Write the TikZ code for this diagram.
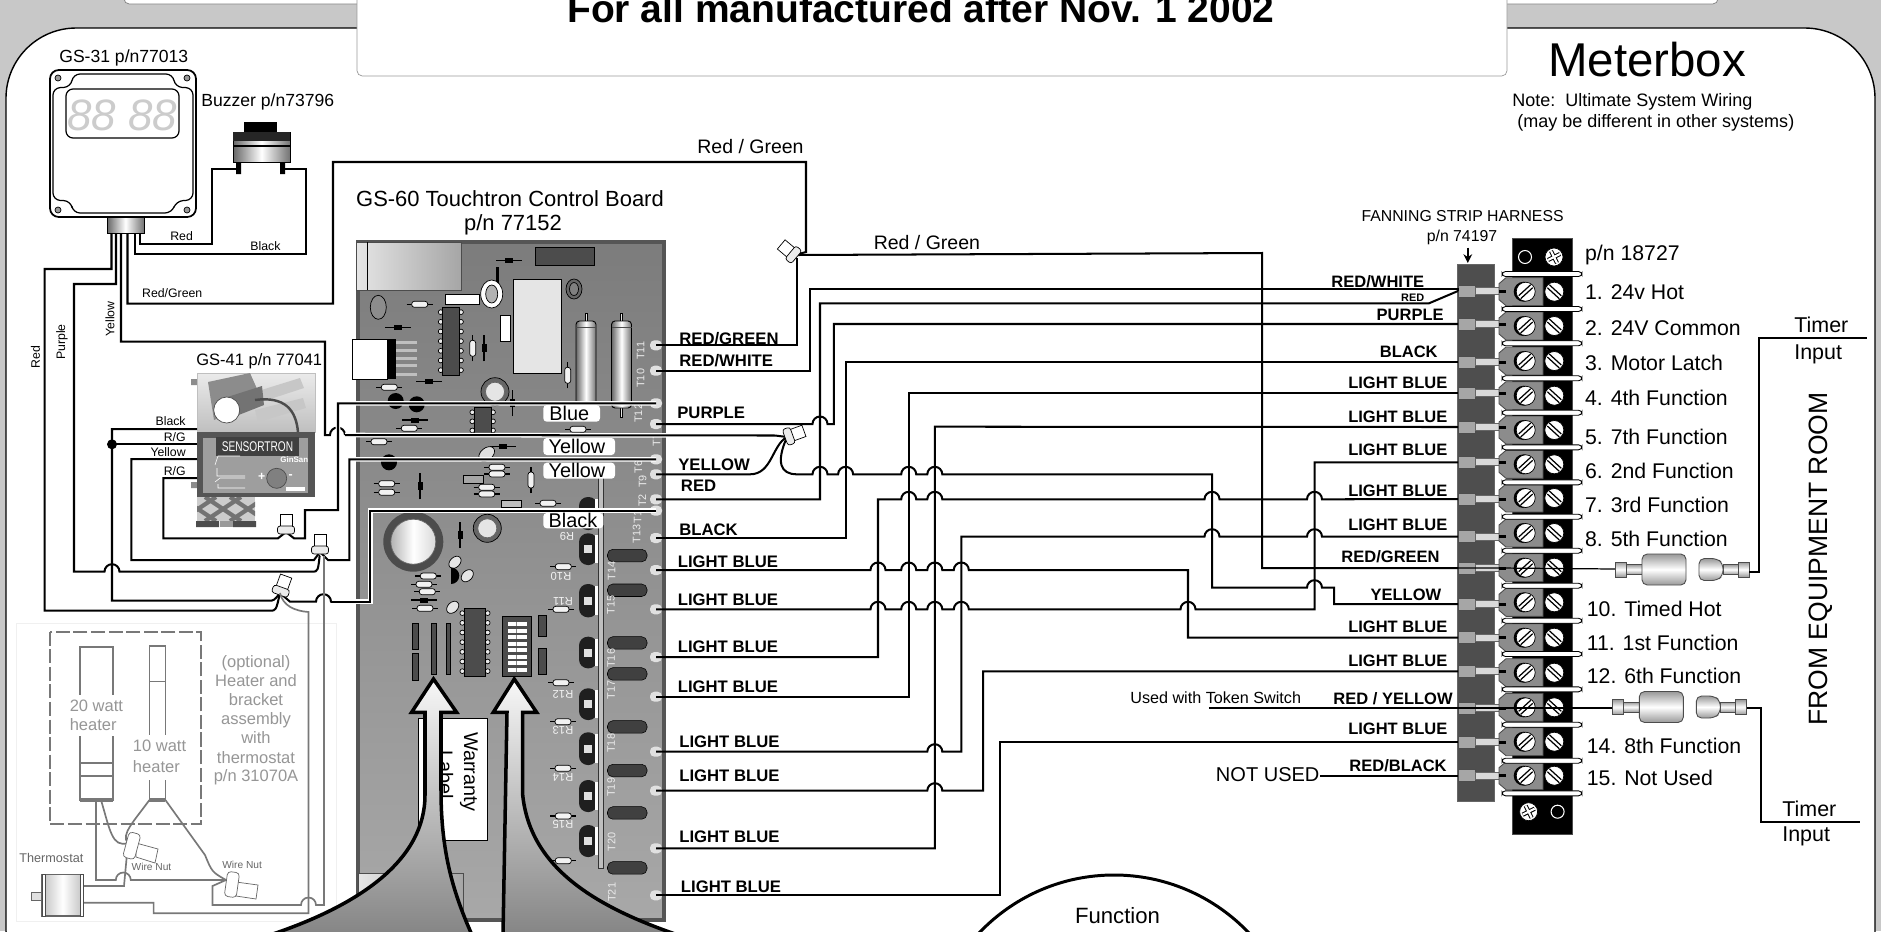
\documentclass[tikz,border=0pt]{standalone}
\usepackage{fontspec}
\setmainfont{Liberation Sans}
\usepackage{xcolor}
\usetikzlibrary{calc,arrows.meta}
\definecolor{bandgris}{RGB}{200,200,200}
\definecolor{boardtop}{RGB}{124,124,124}
\definecolor{boardbot}{RGB}{168,168,168}
\definecolor{boardedge}{RGB}{85,85,85}
\definecolor{stripgris}{RGB}{78,78,78}
\definecolor{luggris}{RGB}{140,140,140}
\definecolor{faintgris}{RGB}{150,150,150}
\definecolor{wiregris}{RGB}{120,120,120}
\newcommand{\fs}[1]{\fontsize{#1}{#1}\selectfont}
\tikzset{
  lab/.style={inner sep=0pt,anchor=base west},
  labr/.style={inner sep=0pt,anchor=base east},
  labc/.style={inner sep=0pt,anchor=base},
  boardtxt/.style={lab,font=\bfseries\fs{9.5}},
  striptxt/.style={labr,font=\bfseries\fs{9.4}},
  termtxt/.style={lab,font=\fs{12.1}},
  smalltxt/.style={inner sep=0pt,font=\fs{7}},
  faint/.style={labc,text=faintgris,font=\fs{9.4}},
  tlab/.style={inner sep=0pt,rotate=90,text=black!8,font=\fs{6.2}},
  rlab/.style={inner sep=0pt,rotate=180,text=black!5,font=\fs{6.4}},
  tag/.style={lab,font=\fs{11.3}},
  wire/.style={line width=1.15pt,black},
  bwire/.style={wire,preaction={draw,white,line width=2.6pt}},
  gwire/.style={line width=0.95pt,wiregris},
  metal/.style={draw=black,line width=0.5pt,left color=black!60,right color=black!55,middle color=white},
  metalh/.style={draw=black!70,line width=0.5pt,top color=black!40,bottom color=black!40,middle color=white},
  big/.style={draw=black,line width=2pt,top color=black!3,bottom color=black!48},
  part/.style={draw=black,line width=0.5pt,fill=black!70},
}
% px coordinates, y going down
\newcommand{\hop}[2]{-- (#1-7.5,#2) arc[start angle=180,end angle=360,radius=7.5]}
\newcommand{\res}[3]{
\begin{scope}[shift={(#1,#2)},rotate=#3]
\draw [black,line width=0.7pt] (-13,0) -- (13,0);
\draw [black,fill=black!5,rounded corners=1.5] (-8,-3) rectangle (8,3);
\end{scope}
}
\newcommand{\dio}[3]{
\begin{scope}[shift={(#1,#2)},rotate=#3]
\draw [black,line width=0.7pt] (-13,0) -- (13,0);
\fill [black] (-4,-2.5) rectangle (4,2.5);
\end{scope}
}
\newcommand{\screw}[2]{
\fill [black] (#1-2,#2) circle (10);
\draw [black,fill=white] (#1,#2) circle (9.5);
\draw [black,line width=0.7pt] (#1-7,#2+4) -- (#1+5,#2-7);
\draw [black,line width=0.7pt] (#1-5,#2+7) -- (#1+7,#2-4);
}
\newcommand{\rscrew}[2]{
\draw [black,fill=white] (#1,#2) circle (9.5);
\draw [black,line width=0.7pt] (#1-7,#2-4) -- (#1+5,#2+7);
\draw [black,line width=0.7pt] (#1-5,#2-7) -- (#1+7,#2+4);
}
\newcommand{\xscrew}[2]{
\draw [black,fill=white] (#1,#2) circle (9);
\draw [black,line width=2.4pt] (#1-6,#2+3) -- (#1+6,#2-3) (#1-3,#2-6) -- (#1+3,#2+6);
\draw [white,line width=1.2pt] (#1-6,#2+3) -- (#1+6,#2-3) (#1-3,#2-6) -- (#1+3,#2+6);
}
\newcommand{\nut}[3]{
\begin{scope}[shift={(#1,#2)},rotate=#3]
\draw [black,fill=white] (4,-6) rectangle (18,6);
\draw [black,fill=black!8,rounded corners=1.5] (-2,-8.5) rectangle (6,8.5);
\end{scope}
}
\newcommand{\fuse}[2]{
\draw [metalh] (#1+11,#2-5) rectangle (#1+27,#2+5);
\draw [metalh] (#1,#2-7.5) rectangle (#1+11,#2+7.5);
\draw [metalh,rounded corners=3] (#1+27,#2-15.5) -- (#1+71,#2-15.5) -- (#1+71,#2+15.5) -- (#1+27,#2+15.5) -- cycle;
\draw [metalh] (#1+108,#2-5) rectangle (#1+123,#2+5);
\draw [metalh,rounded corners=3] (#1+84,#2-11) -- (#1+102,#2-11) -- (#1+108,#2-6) -- (#1+108,#2+6) -- (#1+102,#2+11) -- (#1+84,#2+11) -- cycle;
\draw [metalh] (#1+123,#2-7.5) rectangle (#1+134,#2+7.5);
}
\begin{document}
\begin{tikzpicture}[x=0.02cm,y=-0.02cm]
\useasboundingbox (0,0) rectangle (1881,931);

% background and title
\fill [bandgris] (0,0) rectangle (1881,931);
\draw [black!50,fill=white,rounded corners=3] (124,-20) rectangle (1718,4);
\draw [black,line width=0.8pt,fill=white,rounded corners=40] (6,28) rectangle (1875,1000);
\draw [black!40,fill=white,rounded corners=3] (357,-20) rectangle (1507,76);
\node (title) [labc,font=\bfseries\fs{22.2}] at (921,22) {For all manufactured after Nov. 1 2002};
\node (meterbox) [lab,font=\fs{27}] at (1548,76) {Meterbox};
\node (note1) [lab,font=\fs{10.25}] at (1512,106) {Note:\ \ Ultimate System Wiring};
\node (note2) [lab,font=\fs{10.25}] at (1517,127) {(may be different in other systems)};

% GS-31 display
\node (gslab) [lab,font=\fs{10}] at (59,62) {GS-31 p/n77013};
\draw [black,line width=1pt,fill=white,rounded corners=5] (50,70) rectangle (196,217);
\draw [black,line width=0.7pt,rounded corners=4] (73,74) -- (173,74) -- (175,87) -- (193,88) -- (193,200) -- (176,201) -- (172,213) -- (73,213) -- (71,201) -- (53,200) -- (53,88) -- (71,87) -- cycle;
\draw [black,line width=0.7pt,rounded corners=4] (66,89) rectangle (179,138);
\foreach \sx/\sy in {58/78,187/78,58/210,187/210} {
  \draw [black,fill=black!40] (\sx,\sy) circle (3);
}
\node (digits) [font=\itshape\fs{25},text=black!20,inner sep=0pt] at (122.5,115) {88 88};
\draw [metal] (107,217) rectangle (144,233);

% buzzer
\node (bzlab) [lab,font=\fs{10}] at (201,106) {Buzzer p/n73796};
\fill [black] (244,122) rectangle (277,134);
\draw [metal] (233,132) rectangle (290,162);
\fill [black!85] (233,132) rectangle (290,141);
\draw [black,line width=0.8pt] (233,146) -- (290,146);
\fill [black] (236,162) rectangle (241,174) (280,162) rectangle (285,174);
\coordinate (bzL) at (238,169);
\coordinate (bzR) at (282,169);

% block outputs
\coordinate (oRed) at (111.5,233);
\coordinate (oPur) at (116,233);
\coordinate (oYel) at (121,233);
\coordinate (oRG) at (127.5,233);
\coordinate (oBk) at (134.7,233);
\coordinate (oRd) at (140,233);

% GS-41
\node (s41lab) [lab,font=\fs{9.4}] at (196,365) {GS-41 p/n 77041};
\begin{scope}
\fill [black!45] (191,379) rectangle (197,385) (191,482) rectangle (197,488);
\draw [black!25,top color=black!8,bottom color=black!25] (197,373) rectangle (315,432);
\fill [black!45] (208,382) -- (250,373) -- (262,400) -- (214,420) -- cycle;
\fill [black!22] (255,392) -- (300,378) -- (304,388) -- (258,403) -- cycle;
\fill [black!22] (255,410) -- (303,398) -- (306,408) -- (258,422) -- cycle;
\fill [black!55] (218,400) -- (262,386) -- (264,405) -- (226,420) -- cycle;
\draw [black!70,fill=white] (226.7,410) circle (13);
\draw [black!70,line width=1.4pt] (255,400) .. controls (285,396) and (296,410) .. (298,432);
\fill [boardedge] (197,432) rectangle (315,497);
\fill [black!38] (203,438) rectangle (308,493);
\node (sensortron) [fill=black!75,text=white,xscale=0.72,font=\fs{8},inner xsep=5pt,inner ysep=2.5pt] at (257.5,446.7) {SENSORTRON};
\node (ginsan) [text=white,font=\bfseries\fs{4.5},inner sep=0pt] at (294.3,460) {GinSan};
\draw [white,line width=0.3pt] (215,465) -- (218,456) -- (240,456) (217,468) -- (217,476) -- (245,476);
\draw [white,line width=0.3pt] (215,482) -- (220,478) -- (245,478) (218,484) -- (218,488) -- (245,488);
\draw [black!70,fill=black!50] (276.7,478.3) circle (10);
\node (plus) [text=white,font=\bfseries\fs{7},inner sep=0pt] at (261.7,476.7) {+};
\node (minus) [text=white,font=\bfseries\fs{7},inner sep=0pt] at (290.7,477) {-};
\fill [white] (286,487) rectangle (305,491);
\begin{scope}
\clip (197,497) rectangle (255,521);
\fill [black!20] (197,497) rectangle (255,521);
\foreach \mx in {180,205,230} {
  \draw [black!55,line width=2.4pt] (\mx,497) -- (\mx+36,521);
  \draw [black!55,line width=2.4pt] (\mx+36,497) -- (\mx,521);
}
\end{scope}
\fill [black!70] (196,521) rectangle (219,527) (233,521) rectangle (256,527);
\fill [black!40] (219.5,521) rectangle (232.5,527);
\end{scope}

% control board
\node (boardlab1) [labc,font=\fs{12.5}] at (510,206) {GS-60 Touchtron Control Board};
\node (boardlab2) [labc,font=\fs{12.5}] at (513,230) {p/n 77152};
\draw [boardedge,line width=2.6pt,top color=boardtop,bottom color=boardbot] (358,242) rectangle (664,920);
\draw [black!70,line width=0.5pt,left color=black!10,right color=black!35] (356,242) rectangle (461,290);
\draw [black,line width=0.5pt] (367,242) -- (367,290);
\draw [black!70,line width=0.5pt,left color=black!10,right color=black!35] (358,873) rectangle (463,918);
\draw [part] (535.7,247.3) rectangle (594.3,265);
\fill [black] (496.3,266.7) rectangle (499.1,283);
\draw [black,fill=white] (491.7,294) ellipse (11 and 14);
\draw [black,fill=black!30] (491.7,294) ellipse (6 and 9);
\draw [black,fill=black!10] (513.3,279.3) rectangle (561.7,373.3);
\draw [black,fill=black!60] (574,289) ellipse (8 and 10);
\draw [black,fill=black!50] (574,289) ellipse (4.5 and 6.5);
\draw [black,fill=white] (445.7,294.3) rectangle (479,304.3);
\draw [black,fill=black!45] (378.3,307.3) ellipse (8 and 12);
\draw [black,fill=white] (500.3,315.3) rectangle (510.7,341);

% capacitors
\foreach \cx in {586,621.5} {
  \draw [black,line width=0.5pt,fill=black!10] (\cx-1,313) rectangle (\cx+1,321);
  \draw [black,line width=0.5pt,fill=black!10] (\cx-1,405) rectangle (\cx+1,417);
  \draw [metal,rounded corners=2] (\cx-10,321) rectangle (\cx+10,408);
  \draw [black!70,line width=0.5pt] (\cx-10,327) -- (\cx+10,327);
}

% plug
\draw [black,fill=white] (352.3,339.3) rectangle (387.7,379.3);
\fill [black] (387.7,339.3) rectangle (395.7,379.3);
\foreach \py in {342.3,350.3,358,365.7,374.3} {
  \fill [black!25] (395.7,\py-1.5) rectangle (416.7,\py+1.5);
}

% resistors and diodes
\foreach \rx/\ry/\rr in {419.7/304.3/0,472.7/348.3/90,567.7/375.3/90,389.3/387.3/0,409.3/428.3/0,578/429.3/0,379/441.7/0,497/467.3/0,497/474/0,531/480/90,386.7/483.7/0,386.7/492.3/0,486.7/487.3/0,486.7/494/0,548/503.3/0,428.3/576/0,424/584.3/0,427.3/591.7/0,425/608.3/0,563.3/566.7/0,561/609.3/0,561/682.7/0,563/721.7/0,563/768.3/0,563.3/816/0,563.3/860.7/0} {
  \res{\rx}{\ry}{\rr}
}
\foreach \dx/\dy/\dr in {509.2/260.7/0,398.3/327.3/0,484/348.3/90,429/381.3/0,512.7/403/90,415/420/0,503/446.7/0,420/486.3/90,460/535/90,424/600/0} {
  \dio{\dx}{\dy}{\dr}
}

% chips
\foreach \ix/\iy/\iw/\ih/\ip in {442.7/307.3/16.3/67.7/7,464.3/608.3/21.4/67.7/7,474.3/407.7/16.7/27.3/3} {
  \foreach \k in {1,...,\ip} {
    \draw [black,line width=0.4pt,fill=black!8] (\ix-2,{\iy+(\k-0.5)*\ih/\ip}) circle (2.4);
    \draw [black,line width=0.4pt,fill=black!8] (\ix+\iw+2,{\iy+(\k-0.5)*\ih/\ip}) circle (2.4);
  }
  \draw [part] (\ix,\iy) rectangle (\ix+\iw,\iy+\ih);
}

% blobs and rings
\foreach \bx/\by in {395.7/401,416.7/404.3,389/462.3} {
  \fill [black] (\bx,\by) circle (8);
}
\draw [black,fill=black!12,rotate around={40:(486.7,454)}] (486.7,454) ellipse (9 and 6);
\draw [black,fill=black!60] (495,391.7) circle (14);
\draw [black!60,fill=black!10] (495,391.7) circle (9.5);
\draw [black,fill=black!60] (487.3,528.3) circle (14);
\draw [black!60,fill=black!10] (487.3,528.3) circle (9.5);
\fill [black!70] (413.3,541.7) circle (30);
\draw [black!60,left color=black!30,right color=black!15,middle color=white] (413.3,541.7) circle (22.5);
\draw [black,fill=black!10,rotate around={45:(455,562.3)}] (455,562.3) ellipse (7 and 5);
\draw [black,fill=black!10,rotate around={45:(467.3,575.7)}] (467.3,575.7) ellipse (7 and 5);
\draw [black,fill=black!10,rotate around={45:(452.7,607.3)}] (452.7,607.3) ellipse (7 and 5);
\fill [black] (451,584) arc[start angle=90,end angle=-90,radius=8.3] -- cycle;
\draw [black,fill=black!35] (463.3,475.7) rectangle (483.3,483.3);
\draw [black,fill=black!25] (501,500.7) rectangle (521.7,507.3);

% bars and dip switch
\foreach \ax/\ay/\bx/\by in {412/623.3/418/649.3,412/653.3/418/680,431.3/623.3/436.7/674.3,446.7/623.3/450.7/674.3,538.3/615/546/636.7,538.3/648.3/546/674} {
  \draw [part,line width=0.3pt] (\ax,\ay) rectangle (\bx,\by);
}
\draw [part] (502.3,616.7) rectangle (531.7,676.7);
\foreach \wy in {624,630.7,637,643.7,650,656.7,663,670} {
  \fill [white] (507.5,\wy-2.2) rectangle (526.5,\wy+2.2);
  \fill [black!45] (515.5,\wy-2.2) rectangle (517,\wy+2.2);
}

% terminals beside the strip
\foreach \ty/\tb in {497/530,533.3/565,584/617.3,636.7/668.3,688.3/720,732.3/765,780/812,825/857} {
  \fill [black!88,rounded corners=5] (579,\ty) rectangle (597.5,\tb);
  \fill [white] (594.5,\ty+2) rectangle (597.5,\tb-2);
  \fill [black!12] (584,{(\ty+\tb)/2-4}) rectangle (592,{(\ty+\tb)/2+4});
}
\draw [black!80,line width=0.5pt,fill=black!25] (598.3,473) rectangle (603.3,868.3);
\foreach \py in {549.3,584,636.7,667.7,720.7,764.3,806.7,861.7} {
  \draw [black,line width=0.3pt,fill=black!75,rounded corners=3] (607.5,\py) rectangle (647,\py+12.5);
}

% pads
\foreach \py in {345.3,370.7,403.3,424,459.3,474.3,499.3,510.7,538,570,609.3,657,696.7,751.7,790.7,848.3,895.3} {
  \fill [black!12,rounded corners=2.5] (650,\py-5) rectangle (662,\py+5);
}
\foreach \tn/\tx/\ty in {T11/640.7/350.7,T10/640.7/378.3,T12/638.3/413.3,T7/656.7/440,T6/638.3/466.7,T9/642.7/481.5,T2/642.3/500.5,T1/637.7/517,T13/636.7/534,T14/611.7/570.7,T15/611/605,T16/611/658.3,T17/611/690,T18/611/743.3,T19/611/787.3,T20/611.7/841.7,T21/611.7/892.3} {
  \node (\tn) [tlab] at (\tx,\ty) {\tn};
}
\foreach \rn/\rx/\ry in {R9/567/536,R10/561/576,R11/563/601,R12/563/694,R13/563/730.7,R14/563/777,R15/563/824} {
  \node (\rn) [rlab] at (\rx,\ry) {\rn};
}

% board pins
\coordinate (pRG) at (656,345.3);
\coordinate (pRW) at (656,370.7);
\coordinate (pBlu) at (656,403.3);
\coordinate (pPu) at (656,424);
\coordinate (pYb) at (656,459.3);
\coordinate (pYa) at (656,474.3);
\coordinate (pRd) at (656,499.3);
\coordinate (pBk) at (656,510.7);
\coordinate (pKk) at (656,538);
\coordinate (lba) at (656,570);
\coordinate (lbb) at (656,609.3);
\coordinate (lbc) at (656,657);
\coordinate (lbd) at (656,696.7);
\coordinate (lbe) at (656,751.7);
\coordinate (lbf) at (656,790.7);
\coordinate (lbg) at (656,848.3);
\coordinate (lbh) at (656,895.3);
% nuts
\coordinate (nA) at (795,255);
\coordinate (nB) at (787,437);
\coordinate (nC) at (286,532);
\coordinate (nD) at (320,552);
\coordinate (nE) at (280,593);
\coordinate (wn1) at (128,843);
\coordinate (wn2) at (226,880);
\coordinate (th1) at (84,902.7);
\coordinate (th2) at (84,886);
% sensor pins
\coordinate (gBk) at (197,429);
\coordinate (gRa) at (197,444.3);
\coordinate (gYl) at (197,459);
\coordinate (gRb) at (197,478);

% fanning strip and terminal block
\draw [black!60,line width=0.4pt,fill=stripgris] (1457.7,264.3) rectangle (1494,801);
\draw [black!70,line width=0.4pt,fill=black] (1512,238.3) rectangle (1572,834.3);
\foreach \n/\sy/\py in {1/291.7/291,2/326/324,3/361/362,4/395.7/393.3,5/430/427,6/464.3/462.3,7/498/499,8/533/536.7,9/567.7/568,10/602.3/604,11/637.7/637.7,12/672.7/671.3,13/707.3/708,14/741.7/742.3,15/775.7/775.7} {
  \coordinate (s\n) at (1458,\py);
  \draw [black!70,line width=0.5pt,fill=black!35] (1458,\py-6) rectangle (1475,\py+6);
  \draw [black!60,line width=0.4pt,fill=black!15] (1475,\py-3.5) rectangle (1499,\py+3.5);
  \draw [black!70,line width=0.5pt,fill=luggris] (1499,\sy-8) -- (1506,\sy-14) -- (1543,\sy-14) -- (1543,\sy+14) -- (1506,\sy+14) -- (1499,\sy+8) -- cycle;
  \fill [black] (1499,\py-1.5) rectangle (1506,\py+1.5);
  \screw{1525.7}{\sy}
  \rscrew{1554.3}{\sy}
}
\foreach \yy in {274,309,343.3,378.3,412.7,447.3,482.3,516.7,550.7,585.7,620.7,654,689.3,724.7,760.7,793.3} {
  \draw [black,line width=0.5pt,fill=white,rounded corners=2] (1502,\yy-2.5) rectangle (1582,\yy+2.5);
}
\draw [white,line width=0.6pt] (1525,257) circle (6.5);
\xscrew{1554}{257}
\xscrew{1528.6}{811.7}
\draw [white,line width=0.6pt] (1557.6,811.7) circle (6.5);
\node (fan1) [labc,font=\fs{9}] at (1462.6,221.7) {FANNING STRIP HARNESS};
\node (fan2) [labc,font=\fs{9}] at (1462,241) {p/n 74197};
\coordinate (fanA) at (1467.8,247.7);
\coordinate (fanB) at (1467.8,263);
\draw [-{Stealth[length=5pt,width=5pt]},line width=0.8pt] (fanA) -- (fanB);
\node (pnblock) [termtxt] at (1584.8,260) {p/n 18727};
\foreach \k/\tx/\ty/\txt in {a/1584.8/299.3/1. 24v Hot,b/1584.8/335/2. 24V Common,c/1584.8/370/3. Motor Latch,d/1584.8/405.7/4. 4th Function,e/1584.8/444.3/5. 7th Function,f/1584.8/478.3/6. 2nd Function,g/1584.8/512.3/7. 3rd Function,h/1584.8/546.7/8. 5th Function,i/1586.5/616/10. Timed Hot,j/1586.5/650/11. 1st Function,k/1586.5/683.3/12. 6th Function,l/1586.5/753.3/14. 8th Function,m/1586.5/785.7/15. Not Used} {
  \node (term\k) [termtxt] at (\tx,\ty) {\txt};
}

% wires, left side
\draw [wire] (oRd) -- (140,244) -- (212,244) -- (212,169) -- (bzL);
\draw [wire] (oBk) -- (134.7,254) -- (306.4,254) -- (306.4,169) -- (bzR);
\draw [wire] (oRG) -- (127.5,303.7) -- (333,303.7) -- (333,162) -- (806,162) -- (806,252) -- (nA);
\draw [wire] (oRed) -- (111.5,269) -- (44.6,269) -- (44.6,610.7) -- (270,610.7) .. controls (276,610.7) .. (nE);
\draw [wire] (gBk) -- (112,429) -- (112,600.7) -- (268,600.7) .. controls (274,600.7) .. (nE);
\draw [wire] (gRa) -- (112,444.3);
\fill [black] (112,444.3) circle (5);
\draw [wire] (gYl) -- (131.3,459) -- (131.3,560) -- (314,560) -- (nD);
\draw [wire] (gRb) -- (163.3,478) -- (163.3,538.3) -- (278,538.3) -- (nC);
\draw [wire] (oPur) -- (116,284) -- (74,284) -- (74,571.7) \hop{112}{571.7} -- (312,571.7) .. controls (318,571.7) .. (nD);

% wires across the board
\draw [wire] (oYel) -- (121,341.7) -- (325,341.7) -- (325,435) \hop{337.5}{435};
\draw [bwire] (345,435) -- (775,435.5) -- (nB);
\draw [bwire] (pBlu) -- (338,403.3) -- (338,510) -- (305,510) -- (305,538.3) -- (294,538.3) -- (nC);
\draw [bwire] (pYb) -- (349.3,459.3) -- (349.3,560) -- (328,560) -- (nD);
\draw [bwire] (pBk) -- (370.4,510.7) -- (370.4,601.7) -- (331,601.7);
\draw [wire] (nE) -- (290,601.7) \hop{323.5}{601.7} -- (331,601.7);
\fill [white,rounded corners=2] (543.3,405) rectangle (600,421.7);
\fill [white,rounded corners=2] (543.3,438) rectangle (615,455);
\fill [white,rounded corners=2] (543.3,462.7) rectangle (615,478.7);
\fill [white,rounded corners=2] (543.3,513) rectangle (603.3,528.3);
\node (tagblue) [tag] at (549,420) {Blue};
\node (tagyel) [tag] at (548.3,453.3) {Yellow};
\node (tagyel2) [tag] at (548.3,477.3) {Yellow};
\node (tagblack) [tag] at (548.3,527.3) {Black};

% warranty label and nuts
\draw [black,line width=0.4pt,fill=white] (418,718) rectangle (487,840);
\node (warr) [rotate=-90,font=\fs{11.3},inner sep=0pt] at (469,772) {Warranty};
\node (labl) [rotate=-90,font=\fs{11.3},inner sep=0pt] at (446,775) {Label};
\nut{280}{593}{70}
\nut{320}{552}{90}
\nut{286}{532}{90}

% wires, right side
\draw [wire] (pRG) -- (797,345.3) -- (797,258);
\draw [wire] (nA) -- (1262,253) -- (1262,568) -- (s9);
\draw [wire] (pRW) -- (810,370.7) -- (810,288.7) -- (1458,288.7) -- (s1);
\draw [wire] (pRd) -- (820,499.3) -- (820,303.3) -- (1429,303.3) -- (s1);
\draw [wire] (pPu) \hop{820}{424} -- (833.8,424) -- (833.8,324) -- (s2);
\draw [wire] (pKk) -- (845.6,538) -- (845.6,362) -- (s3);
\draw [wire] (pYa) -- (750,474.3) .. controls (772,474.3) and (772,445) .. (nB);
\draw [wire] (nB) .. controls (776,462) and (780,474.3) .. (797,474.3) \hop{820}{474.3} \hop{845.6}{474.3} \hop{908.7}{474.3} \hop{934.8}{474.3} -- (1212,474.3) -- (1212,587.7) \hop{1314.5}{587.7} -- (1334,587.7) -- (1334,604) -- (s10);
\draw [wire] (lbc) -- (878,657) -- (878,499.3) \hop{908.7}{499.3} \hop{934.8}{499.3} \hop{1212}{499.3} \hop{1314.5}{499.3} -- (s7);
\draw [wire] (lbd) -- (908.7,696.7) -- (908.7,393.3) -- (s4);
\draw [wire] (lbg) -- (934.8,848.3) -- (934.8,426.7) -- (s5);
\draw [wire] (lbe) \hop{934.8}{751.7} -- (961.3,751.7) -- (961.3,536.7) \hop{1212}{536.7} \hop{1314.5}{536.7} -- (s8);
\draw [wire] (lbf) \hop{934.8}{790.7} -- (983.2,790.7) -- (983.2,671.3) -- (s12);
\draw [wire] (lbh) -- (1000,895.3) -- (1000,742.3) -- (s14);
\draw [wire] (lba) \hop{878}{570} \hop{908.7}{570} \hop{934.8}{570} \hop{961.3}{570} -- (1188,570) -- (1188,637.7) -- (s11);
\draw [wire] (lbb) \hop{878}{609.3} \hop{908.7}{609.3} \hop{934.8}{609.3} \hop{961.3}{609.3} \hop{1188}{609.3} -- (1314.5,609.3) -- (1314.5,462.3) -- (s6);
\coordinate (tok) at (1208.8,708);
\draw [wire] (tok) -- (s13);
\node (nused) [lab,font=\fs{11.4}] at (1215.6,781) {NOT USED};
\draw [wire] (nused.east |- s15) -- (s15);
\nut{795}{256}{140}
\nut{787}{437}{20}

% through the block, fuses and timer
\coordinate (f9) at (1615,569);
\coordinate (f13) at (1612.3,708);
\draw [line width=0.7pt] (s9) -- (1499,568) -- (f9);
\draw [line width=0.7pt] (s13) -- (f13);
\fuse{1615}{569.5}
\fuse{1612.3}{707}
\coordinate (fout9) at (1749,571.7);
\coordinate (fout13) at (1746.5,707.7);
\coordinate (timer1) at (1867.4,338.3);
\coordinate (timer2) at (1859.5,821.7);
\draw [wire] (fout9) -- (1759.4,571.7) -- (1759.4,338.3) -- (timer1);
\draw [wire] (fout13) -- (1760.8,707.7) -- (1760.8,821.7) -- (timer2);
\node (ta) [lab,font=\fs{12.2}] at (1794,332.7) {Timer};
\node (tb) [lab,font=\fs{12.2}] at (1794,359.3) {Input};
\node (tc) [lab,font=\fs{12.2}] at (1782,816.7) {Timer};
\node (td) [lab,font=\fs{12.2}] at (1782,841.7) {Input};
\node (room) [rotate=90,font=\fs{15.1},inner sep=0pt] at (1821,559) {FROM EQUIPMENT ROOM};

% wire names on the board side
\foreach \k/\tx/\ty/\txt in {a/679/344/{RED/GREEN},b/679/366.7/{RED/WHITE},c/677/418/PURPLE,d/678/470/YELLOW,e/680.6/491.7/RED,f/679/535.7/BLACK,g/677.5/567/LIGHT BLUE,h/677.5/605/LIGHT BLUE,i/677.5/652.7/LIGHT BLUE,j/677.5/692.7/LIGHT BLUE,k/679/747.7/LIGHT BLUE,l/679/781/LIGHT BLUE,m/679/842.7/LIGHT BLUE,n/680.6/892/LIGHT BLUE} {
  \node (nm\k) [boardtxt] at (\tx,\ty) {\txt};
}
% wire names on the strip side
\foreach \k/\tx/\ty/\txt in {a/1424.5/287.3/{RED/WHITE},b/1444/320/PURPLE,c/1438/357/BLACK,d/1447.7/388.3/LIGHT BLUE,e/1447.7/422/LIGHT BLUE,f/1447.7/455/LIGHT BLUE,g/1447.7/496.7/LIGHT BLUE,h/1447.7/530/LIGHT BLUE,i/1440/562.7/{RED/GREEN},j/1441.6/600/YELLOW,k/1447.7/632.7/LIGHT BLUE,l/1447.7/666.7/LIGHT BLUE,m/1453/704.3/{RED / YELLOW},n/1447.7/734/LIGHT BLUE,o/1447/771.7/{RED/BLACK}} {
  \node (st\k) [striptxt] at (\tx,\ty) {\txt};
}
\node (stred) [labr,font=\bfseries\fs{6.2}] at (1424.5,301) {RED};
\node (rgup) [lab,font=\fs{11.1}] at (697,153) {Red / Green};
\node (rglow) [lab,font=\fs{11.1}] at (873.4,249.3) {Red / Green};
\node (token) [lab,font=\fs{9.2}] at (1130,703.3) {Used with Token Switch};

% small wire names
\node (wred) [smalltxt,anchor=base west] at (170,240.7) {Red};
\node (wblack) [smalltxt,anchor=base west] at (250,250.7) {Black};
\node (wrg) [smalltxt,anchor=base west] at (141.8,297.3) {Red/Green};
\node (wyel) [smalltxt,rotate=90] at (110,319) {Yellow};
\node (wpur) [smalltxt,rotate=90] at (62,342) {Purple};
\node (wrd) [smalltxt,rotate=90] at (35.4,357) {Red};
\node (gb) [smalltxt,anchor=base east] at (186,425) {Black};
\node (gr) [smalltxt,anchor=base east] at (186,441.7) {R/G};
\node (gy) [smalltxt,anchor=base east] at (186,456.7) {Yellow};
\node (gs) [smalltxt,anchor=base east] at (186,475) {R/G};

% optional heater
\draw [black!6,line width=0.4pt] (16,623) rectangle (336,921.7);
\draw [wiregris,line width=1pt,dash pattern=on 8pt off 2pt] (49.7,631.7) rectangle (201,824.3);
\draw [wiregris,line width=1pt] (80,646.7) rectangle (112.8,800);
\draw [wiregris,line width=1pt] (80,763.3) -- (112.8,763.3) (80,776) -- (112.8,776);
\draw [wiregris,line width=1pt] (149.4,645.7) rectangle (165.4,800);
\draw [wiregris,line width=0.7pt,rounded corners=2] (149.4,681.7) -- (165.4,681.7);
\draw [wiregris,line width=2pt] (80,800) -- (112.8,800) (149.4,800) -- (165.4,800);
\fill [white] (66,695) rectangle (124,736);
\fill [white] (131,735) rectangle (186,780);
\node (h20a) [lab,text=faintgris,font=\fs{9.4}] at (69.4,711) {20 watt};
\node (h20b) [lab,text=faintgris,font=\fs{9.4}] at (69.4,730) {heater};
\node (h10a) [lab,text=faintgris,font=\fs{9.4}] at (132.6,751.7) {10 watt};
\node (h10b) [lab,text=faintgris,font=\fs{9.4}] at (132.6,772) {heater};
\foreach \k/\ty/\txt in {a/667.3/(optional),b/686/Heater and,c/705/bracket,d/724.3/assembly,e/743.3/with,f/763.3/thermostat,g/781.7/{p/n 31070A}} {
  \node (opt\k) [faint] at (256,\ty) {\txt};
}
\coordinate (hA) at (96,800);
\coordinate (hB) at (101,800);
\coordinate (hC) at (149.4,800);
\coordinate (hD) at (165.4,800);
\draw [gwire] (hA) -- (96,880) \hop{123.3}{880} -- (wn2);
\draw [gwire] (hB) .. controls (110,830) and (112,848) .. (wn1);
\draw [gwire] (hC) .. controls (135,820) and (120,835) .. (wn1);
\draw [gwire] (hD) -- (205,855) .. controls (212,872) .. (wn2);
\draw [gwire] (wn1) -- (124,886) -- (th2);
\draw [gwire] (nE) .. controls (283,606) and (295,611) .. (308.5,612) -- (308.5,913.3) -- (153.6,913.3) -- (153.6,902.7) -- (th1);
\draw [gwire] (wn2) -- (212.5,886) -- (212.5,905) \hop{308.5}{905} -- (324,905) -- (324,556);
\draw [black!60,line width=0.6pt,left color=black!25,right color=black!25,middle color=white] (42,874.3) rectangle (83.3,916);
\draw [black!60,line width=0.6pt,fill=black!12] (31.6,892.7) rectangle (42,900.7);
\draw [black!70,line width=0.5pt,fill=white] (42,874.3) rectangle (45,916) (80.3,874.3) rectangle (83.3,916);
\draw [black!60,fill=white] (wn1) ++(8,0) -- ++(22,6) -- ++(-3,14) -- ++(-19,-6) -- cycle;
\draw [black!60,fill=white,rounded corners=2,rotate around={-15:(133,845)}] (126,833) rectangle (138,859);
\draw [black!60,fill=white] (wn2) ++(10,2) -- ++(22,3) -- ++(-2,14) -- ++(-20,-3) -- cycle;
\draw [black!60,fill=white,rounded corners=2,rotate around={-8:(232,884)}] (226,872) rectangle (238,897);
\node (thermo) [lab,text=black!60,font=\fs{7.2}] at (19,862.7) {Thermostat};
\node (nutla) [lab,text=black!60,font=\fs{5.8}] at (131.3,870) {Wire Nut};
\node (nutlb) [lab,text=black!60,font=\fs{5.8}] at (222,868) {Wire Nut};

% big arrows
\draw [big,line join=miter] (433.5,679) -- (456.6,712.3) -- (441,712.3) -- (441,790) .. controls (441,850) and (452,890) .. (472,935) -- (270,935) .. controls (360,905) and (425,860) .. (425,795) -- (425,712.3) -- (411.6,712.3) -- cycle;
\draw [big,line join=miter] (514.3,679) -- (536.6,712.3) -- (522.7,712.3) -- (522.7,795) .. controls (530,865) and (590,905) .. (678,935) -- (503,935) -- (507,712.3) -- (493.3,712.3) -- cycle;

% function circle
\draw [black,line width=1.7pt] (1114,1061) circle (186);
\node (funct) [labc,font=\fs{12.6}] at (1117.5,923) {Function};

\end{tikzpicture}
\end{document}
